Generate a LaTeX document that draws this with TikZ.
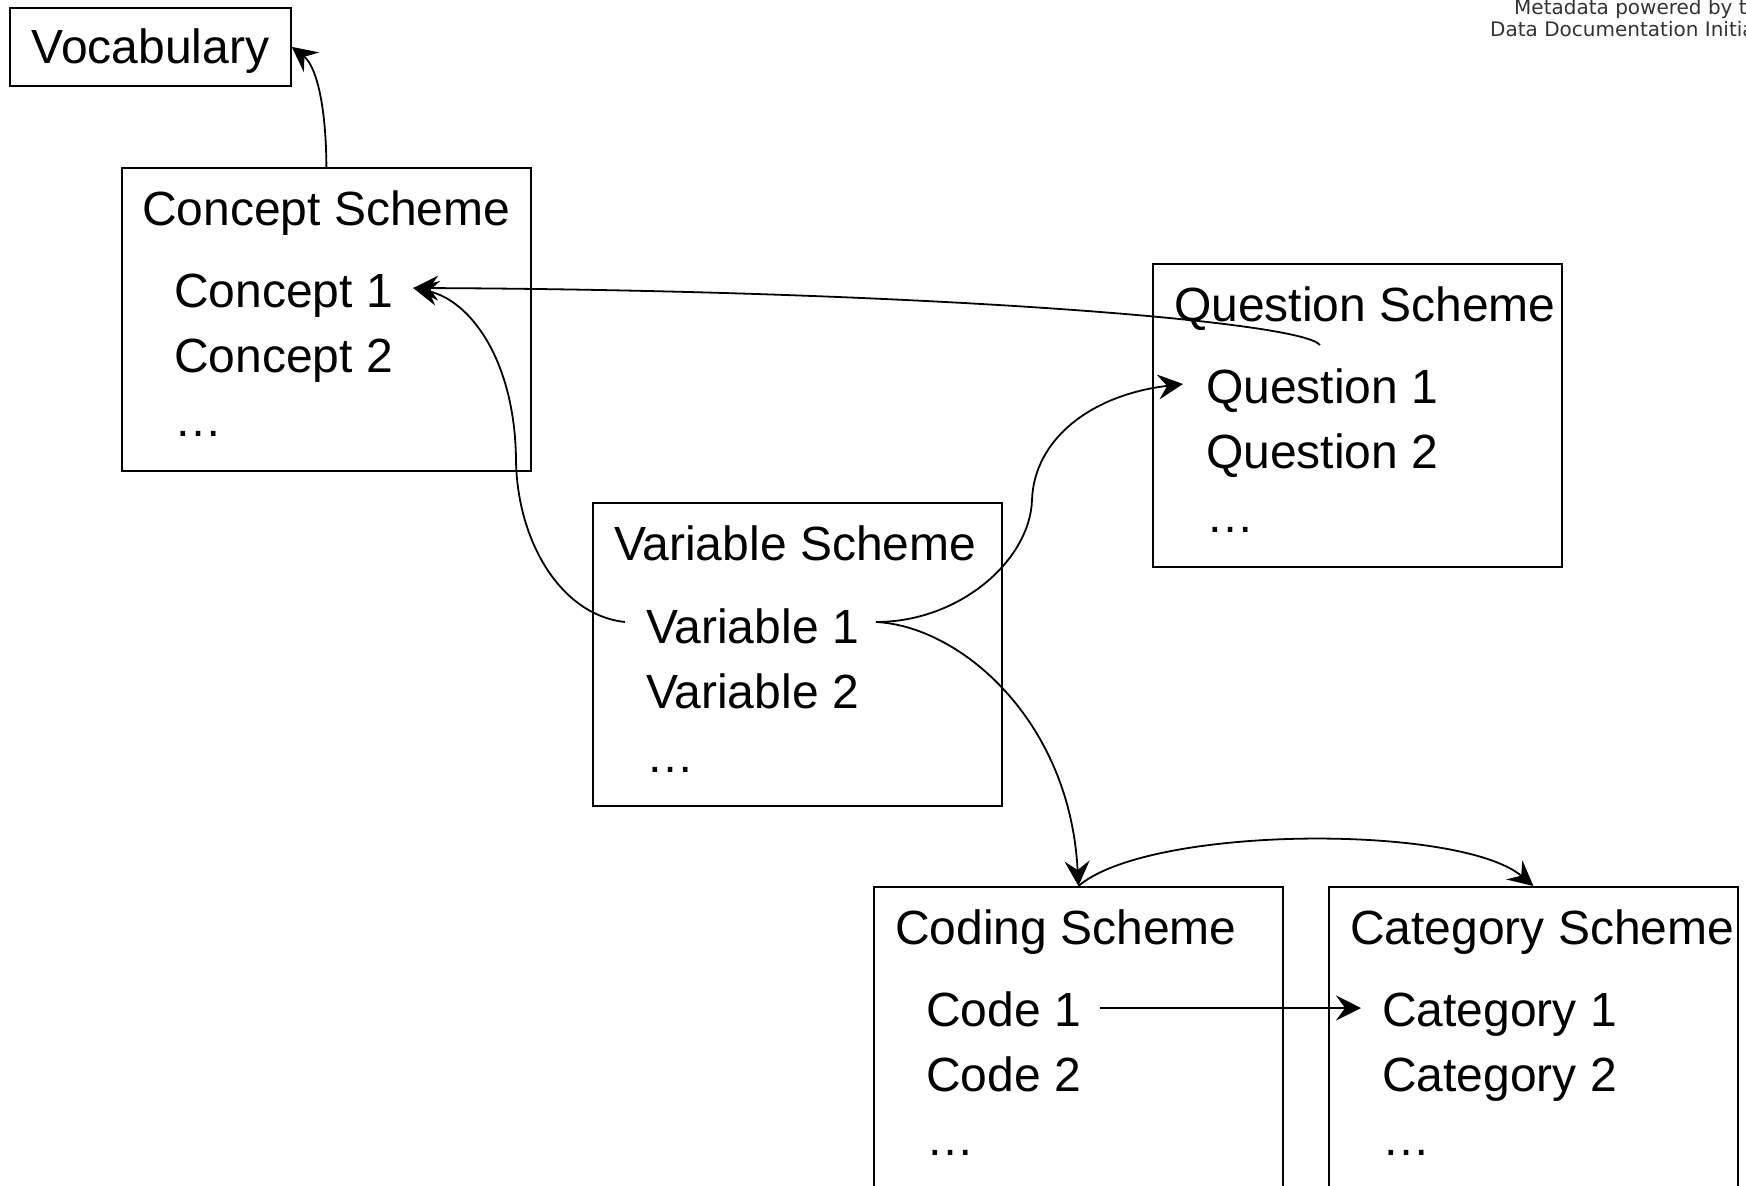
\documentclass[tikz,border=0pt]{standalone}
\usepackage{fontspec}
\setmainfont{Liberation Sans}
\newfontfamily\ddifont{DejaVu Sans}
\usetikzlibrary{arrows.meta,calc}
\tikzset{
  schemebox/.style={draw, line width=1.8pt, rectangle, minimum width=409pt, minimum height=303pt, anchor=north west, inner sep=0pt},
  txt/.style={anchor=base west, inner sep=0pt, font=\fontsize{48}{57}\selectfont},
  link/.style={line width=1.8pt, -{Stealth[length=25pt,width=25pt,inset=9pt]}},
  ddi/.style={anchor=base west, inner sep=0pt, font=\ddifont\fontsize{20}{24}\selectfont, text=black!80},
}
\begin{document}
\begin{tikzpicture}[x=1pt,y=-1pt]
\useasboundingbox (0,0) rectangle (1746,1186);
\begin{scope}
\clip (0,0) rectangle (1746,1186);

% top-right note (cut off by the right edge, as in the original)
\node[ddi] (ddi1) at (1514,14) {Metadata powered by the};
\node[ddi] (ddi2) at (1490,36) {Data Documentation Initiative};

% Vocabulary
\node[draw, line width=1.8pt, minimum width=281pt, minimum height=78pt, anchor=north west, inner sep=0pt,
      text height=34pt, text depth=0pt, font=\fontsize{48}{57}\selectfont] (voc) at (9,7) {Vocabulary};

% Concept scheme
\node[schemebox] (cs) at (121,167) {};
\node[txt] (csh) at ($(cs.north west)+(21,58)$) {Concept Scheme};
\node[txt] (c1) at ($(cs.north west)+(53,140)$) {Concept 1};
\node[txt] (c2) at ($(cs.north west)+(53,205)$) {Concept 2};
\node[txt] (c3) at ($(cs.north west)+(53,269)$) {…};

% Question scheme
\node[schemebox] (qs) at (1152,263) {};
\node[txt] (qsh) at ($(qs.north west)+(22,58)$) {Question Scheme};
\node[txt] (q1) at ($(qs.north west)+(54,140)$) {Question 1};
\node[txt] (q2) at ($(qs.north west)+(54,205)$) {Question 2};
\node[txt] (q3) at ($(qs.north west)+(54,269)$) {…};

% Variable scheme
\node[schemebox] (vs) at (592,502) {};
\node[txt] (vsh) at ($(vs.north west)+(22,58)$) {Variable Scheme};
\node[txt] (v1) at ($(vs.north west)+(54,141)$) {Variable 1};
\node[txt] (v2) at ($(vs.north west)+(54,206)$) {Variable 2};
\node[txt] (v3) at ($(vs.north west)+(54,270)$) {…};

% Coding scheme
\node[schemebox] (cod) at (873,886) {};
\node[txt] (codh) at ($(cod.north west)+(22,58)$) {Coding Scheme};
\node[txt] (k1) at ($(cod.north west)+(53,140)$) {Code 1};
\node[txt] (k2) at ($(cod.north west)+(53,205)$) {Code 2};
\node[txt] (k3) at ($(cod.north west)+(53,269)$) {…};

% Category scheme
\node[schemebox] (cat) at (1328,886) {};
\node[txt] (cath) at ($(cat.north west)+(22,58)$) {Category Scheme};
\node[txt] (g1) at ($(cat.north west)+(54,140)$) {Category 1};
\node[txt] (g2) at ($(cat.north west)+(54,205)$) {Category 2};
\node[txt] (g3) at ($(cat.north west)+(54,269)$) {…};

% connector end points
\coordinate (c1tip) at ($(c1.base east)+(20,-19)$);
\coordinate (q1tip) at ($(q1.base west)+(-23,-19)$);
\coordinate (qsrc) at ($(qs.north west)+(168,82)$);
\coordinate (v1l) at ($(v1.base west)+(-21,-21)$);
\coordinate (v1r) at ($(v1.base east)+(17,-21)$);
\coordinate (k1r) at ($(k1.base east)+(19,-18)$);
\coordinate (g1tip) at ($(g1.base west)+(-21,-18)$);

% connectors
\draw[link] (cs.north) .. controls (326,100) and (315,65) .. (voc.east);
\draw[link] (qsrc) .. controls (1300,320) and (900,290) .. (c1tip);
\draw[link] (v1l) .. controls (560,615) and (517,540) .. (516,460)
                  .. controls (515,360) and (470,300) .. (c1tip);
\draw[link] (v1r) .. controls (960,622) and (1030,560) .. (1032,500)
                  .. controls (1034,440) and (1090,395) .. (q1tip);
\draw[link] (v1r) .. controls (960,626) and (1070,720) .. (cod.north);
\draw[link] (cod.north) .. controls (1150,825) and (1460,824) .. (cat.north);
\draw[link] (k1r) -- (g1tip);
\end{scope}
\end{tikzpicture}
\end{document}
